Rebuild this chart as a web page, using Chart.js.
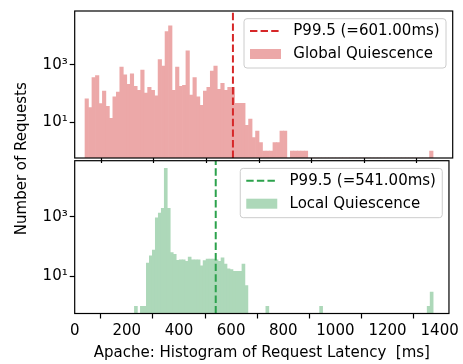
<!DOCTYPE html>
<html><head><meta charset="utf-8">
<script src="https://cdn.jsdelivr.net/npm/chart.js@4"></script>
<style>
html,body{margin:0;padding:0;background:#fff;}
#wrap{position:relative;width:463px;height:364px;overflow:hidden;}
canvas{position:absolute;left:0;top:0;}
</style></head><body>
<div id="wrap"><canvas id="cTop" width="463" height="364"></canvas><canvas id="cBot" width="463" height="364"></canvas></div>
<script>
// ---- data ----
const TOP_BIN_START = 39.1, TOP_BIN_WIDTH = 13.22;
const BOT_BIN_START = 229.0, BOT_BIN_WIDTH = 11.46;
const globalCounts = [
  66, 33, 360, 430, 45, 123, 36, 14, 77, 114,
  836, 453, 210, 489, 180, 132, 664, 105, 167, 132,
  84, 1545, 903, 14300, 22700, 132, 836, 180, 195, 3080,
  90, 360, 77, 39, 123, 167, 615, 903, 143, 227,
  132, 167, 167, 46, 46, 46, 8, 13, 3, 5,
  2, 1, 1, 1, 2, 2, 5, 5, 0, 1,
  1, 1, 1, 1, 0, 0, 0, 0, 0, 0,
  0, 0, 0, 0, 0, 0, 0, 0, 0, 0,
  0, 0, 0, 0, 0, 0, 0, 0, 0, 0,
  0, 0, 0, 0, 0, 0, 0, 0, 0, 1
];
const localCounts = [
  1, 0, 1, 1, 28, 49, 77, 920, 1325, 1897,
  41900, 1897, 63, 55, 35, 36, 36, 32, 45, 36,
  36, 36, 23, 34, 38, 38, 38, 36, 32, 42,
  26, 18, 17, 15, 15, 15, 26, 5, 0, 0,
  0, 0, 0, 0, 1, 0, 0, 0, 0, 0,
  0, 0, 0, 0, 0, 0, 0, 0, 0, 0,
  0, 0, 1, 0, 0, 0, 0, 0, 0, 0,
  0, 0, 0, 0, 0, 0, 0, 0, 0, 0,
  0, 0, 0, 0, 0, 0, 0, 0, 0, 0,
  0, 0, 0, 0, 0, 0, 0, 0, 1, 3
];
const P995_GLOBAL = 601.00;
const P995_LOCAL = 541.00;
const X_TICKS = [0, 200, 400, 600, 800, 1000, 1200, 1400];
const X_TICK_LABELS = ['0', '200', '400', '600', '800', '1000', '1200', '1400'];
const Y_TICKS = [10, 1000];
const Y_TICK_LABELS = ['10\u00B9', '10\u00B3'];
const X_MIN = 0, X_MAX = 1435.7;
const Y_MIN = 0.58, Y_MAX = 75000;
const SERIES_NAMES = ['Global Quiescence', 'Local Quiescence'];
const LINE_NAMES = ['P99.5 (=601.00ms)', 'P99.5 (=541.00ms)'];
const X_TITLE = 'Apache: Histogram of Request Latency  [ms]';
const Y_TITLE = 'Number of Requests';

// ---- rendering ----
Chart.defaults.font.family = "'DejaVu Sans', sans-serif";
Chart.defaults.font.size = 15;
Chart.defaults.color = '#000';

function binCenters(start, width, n) {
  return Array.from({length: n}, (_, i) => start + width * (i + 0.5));
}

const framePlugin = {
  id: 'frame',
  afterDatasetsDraw(chart) {
    const {ctx, chartArea: a} = chart;
    ctx.save();
    ctx.strokeStyle = '#000';
    ctx.lineWidth = 1.2;
    ctx.strokeRect(a.left, a.top, a.right - a.left, a.bottom - a.top);
    ctx.restore();
  }
};

const boxLegendPlugin = {
  id: 'boxLegend',
  afterDraw(chart, args, o) {
    if (!o || !o.lineText) return;
    const {ctx, chartArea: a} = chart;
    const w = 202, h = 49.3;
    const x0 = a.right - 6.7 - w, y0 = a.top + 7.7;
    ctx.save();
    ctx.beginPath();
    ctx.roundRect(x0, y0, w, h, 3);
    ctx.fillStyle = 'rgba(255,255,255,0.8)';
    ctx.fill();
    ctx.strokeStyle = '#cccccc';
    ctx.lineWidth = 1;
    ctx.stroke();
    const ly = y0 + 12.3;
    ctx.setLineDash([7.4, 3.2]);
    ctx.strokeStyle = o.lineColor;
    ctx.lineWidth = 2;
    ctx.beginPath(); ctx.moveTo(x0 + 6, ly); ctx.lineTo(x0 + 37, ly); ctx.stroke();
    ctx.setLineDash([]);
    ctx.fillStyle = o.patchColor;
    ctx.fillRect(x0 + 6, y0 + 30.3, 31, 10);
    ctx.fillStyle = '#000';
    ctx.font = "15px 'DejaVu Sans'";
    ctx.textAlign = 'left';
    ctx.textBaseline = 'middle';
    ctx.fillText(o.lineText, x0 + 49.3, ly);
    ctx.fillText(o.patchText, x0 + 49.3, y0 + 35.3);
    ctx.restore();
  }
};

const yTitlePlugin = {
  id: 'yTitle',
  afterDraw(chart, args, o) {
    if (!o || !o.text) return;
    const ctx = chart.ctx;
    ctx.save();
    ctx.translate(o.x, o.y);
    ctx.rotate(-Math.PI / 2);
    ctx.font = "15px 'DejaVu Sans'";
    ctx.fillStyle = '#000';
    ctx.textAlign = 'center';
    ctx.textBaseline = 'middle';
    ctx.fillText(o.text, 0, 0);
    ctx.restore();
  }
};

function makePanel(id, counts, binStart, binWidth, p995, barColor, lineColor, name, lineName, isBottom) {
  const xs = binCenters(binStart, binWidth, counts.length);
  const tickGrid = {display: true, drawOnChartArea: false, drawTicks: true, tickLength: 5, tickColor: '#000', tickWidth: 1.2};
  return new Chart(document.getElementById(id), {
    type: 'bar',
    data: {
      datasets: [
        {type: 'line', label: lineName, data: [{x: p995, y: Y_MIN}, {x: p995, y: Y_MAX}],
         borderColor: lineColor, borderWidth: 2, borderDash: [7.4, 3.2], pointRadius: 0, fill: false, order: 1},
        {type: 'bar', label: name, data: xs.map((x, i) => ({x: x, y: counts[i]})),
         backgroundColor: barColor, borderWidth: 0, barPercentage: 1, categoryPercentage: 1, order: 2}
      ]
    },
    options: {
      responsive: false, animation: false, devicePixelRatio: 1,
      layout: {padding: isBottom ? {top: 160.7, right: 10.3, bottom: 0, left: 0}
                                 : {top: 4, right: 10.3, bottom: 201, left: 0}},
      plugins: {
        legend: {display: false}, tooltip: {enabled: false},
        boxLegend: {lineText: lineName, patchText: name, lineColor: lineColor, patchColor: barColor},
        yTitle: isBottom ? {text: Y_TITLE, x: 22, y: 158.7} : {}
      },
      scales: {
        x: {type: 'linear', min: X_MIN, max: X_MAX, offset: false,
            afterBuildTicks: s => { s.ticks = X_TICKS.map(v => ({value: v})); },
            afterFit: s => { s.height = isBottom ? 50.5 : 5; },
            grid: tickGrid, border: {display: false},
            ticks: {display: isBottom, padding: 4, maxRotation: 0, minRotation: 0, autoSkip: false, color: '#000',
                    callback: v => { const k = X_TICKS.indexOf(v); return k >= 0 ? X_TICK_LABELS[k] : ''; }},
            title: {display: isBottom, text: X_TITLE, padding: {top: 0, bottom: 2}, color: '#000'}},
        y: {type: 'logarithmic', min: Y_MIN, max: Y_MAX,
            afterBuildTicks: s => { s.ticks = Y_TICKS.map(v => ({value: v})); },
            afterFit: s => { s.width = 74.7; },
            grid: tickGrid, border: {display: false},
            ticks: {padding: 2, autoSkip: false, color: '#000',
                    callback: v => { const k = Y_TICKS.indexOf(v); return k >= 0 ? Y_TICK_LABELS[k] : ''; }}}
      }
    },
    plugins: [framePlugin, boxLegendPlugin, yTitlePlugin]
  });
}

makePanel('cTop', globalCounts, TOP_BIN_START, TOP_BIN_WIDTH, P995_GLOBAL,
  'rgb(236,168,168)', '#d62728', SERIES_NAMES[0], LINE_NAMES[0], false);
makePanel('cBot', localCounts, BOT_BIN_START, BOT_BIN_WIDTH, P995_LOCAL,
  'rgb(173,216,185)', '#2ca24c', SERIES_NAMES[1], LINE_NAMES[1], true);
</script>
</body></html>
